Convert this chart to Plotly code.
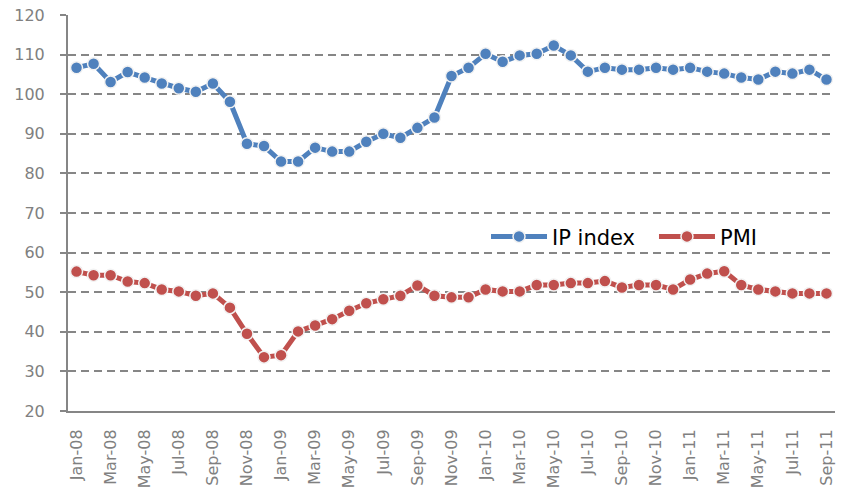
import plotly.graph_objects as go

months = [f"{m}-{y:02d}" for y in (8, 9, 10, 11) for m in
          ["Jan", "Feb", "Mar", "Apr", "May", "Jun", "Jul", "Aug", "Sep", "Oct", "Nov", "Dec"]][:45]

ip_index = [106.7, 107.7, 103.1, 105.6, 104.2, 102.7, 101.5, 100.6, 102.7, 98.1,
            87.5, 86.9, 83.0, 83.0, 86.5, 85.5, 85.5, 88.0, 90.0, 89.0,
            91.5, 94.1, 104.6, 106.7, 110.2, 108.2, 109.8, 110.2, 112.3, 109.8,
            105.7, 106.7, 106.2, 106.2, 106.7, 106.2, 106.7, 105.7, 105.2, 104.2,
            103.7, 105.7, 105.2, 106.2, 103.7]

pmi = [55.2, 54.3, 54.3, 52.7, 52.3, 50.7, 50.2, 49.1, 49.7, 46.1,
       39.5, 33.6, 34.1, 40.1, 41.6, 43.2, 45.3, 47.2, 48.2, 49.1,
       51.7, 49.1, 48.7, 48.7, 50.7, 50.2, 50.2, 51.8, 51.8, 52.3,
       52.3, 52.8, 51.2, 51.8, 51.8, 50.7, 53.2, 54.7, 55.3, 51.8,
       50.7, 50.2, 49.7, 49.7, 49.7]

tick_labels = months[::2]
boundary_ticks = [i - 0.5 for i in range(0, 45, 2)]

GRAY = "#868686"
FONT = "DejaVu Sans"

fig = go.Figure()
for name, vals, color, leg in [("IP index", ip_index, "#4F81BD", "legend"),
                                ("PMI", pmi, "#C0504D", "legend2")]:
    fig.add_trace(go.Scatter(
        x=months, y=vals, name=name, mode="lines+markers", legend=leg,
        line=dict(color=color, width=5),
        marker=dict(color=color, size=12, line=dict(color="#f2f2f2", width=1.5)),
    ))

leg_common = dict(orientation="h", xanchor="left", y=0.44, yanchor="middle",
                  font=dict(size=21, color="#000000", family=FONT),
                  bgcolor="rgba(0,0,0,0)", itemwidth=56)

# page body has an 8px default margin; figure is sized to fill the rest of the window
fig.update_layout(
    width=846, height=482,
    margin=dict(l=60, r=19, t=7, b=79, autoexpand=False),
    paper_bgcolor="white", plot_bgcolor="white",
    font=dict(family=FONT, color="#808080"),
    showlegend=True,
    legend=dict(x=0.545, **leg_common),
    legend2=dict(x=0.764, **leg_common),
    xaxis=dict(type="category", range=[-0.5, 44.5], tickmode="array", tickvals=tick_labels,
               ticktext=tick_labels, tickangle=-90, ticks="outside", ticklen=7,
               tickcolor="rgba(0,0,0,0)", showgrid=False, showline=True, linecolor=GRAY,
               linewidth=2, tickfont=dict(size=16, color="#808080"), ticklabelstandoff=3,
               ticklabeloverflow="allow", automargin=False),
    xaxis2=dict(overlaying="x", anchor="y", type="linear", range=[-0.5, 44.5],
                tickmode="array", tickvals=boundary_ticks, ticks="outside", ticklen=7,
                tickwidth=1.5, tickcolor=GRAY, showticklabels=False, showgrid=False,
                showline=False, zeroline=False, side="bottom", automargin=False),
    yaxis=dict(range=[20, 120], dtick=10, tick0=20, ticks="outside", ticklen=6,
               tickwidth=1.5, tickcolor=GRAY, showline=True, linecolor=GRAY, linewidth=2,
               showgrid=True, gridcolor=GRAY, gridwidth=1.5, griddash="8px,5px",
               zeroline=False, tickfont=dict(size=16, color="#808080"), ticklabelstandoff=12,
               ticklabeloverflow="allow", automargin=False),
)

fig.write_html("out.html")
